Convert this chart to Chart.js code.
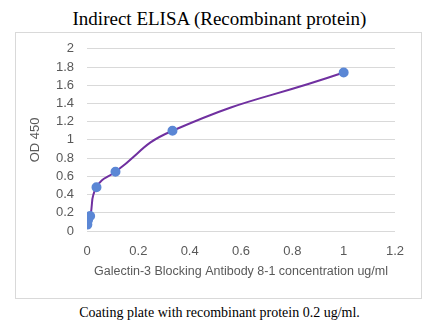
<!DOCTYPE html>
<html>
<head>
<meta charset="utf-8">
<script src="https://cdn.jsdelivr.net/npm/chart.js@4"></script>
<style>
  body { margin: 0; background: #fff; width: 439px; height: 336px; position: relative; overflow: hidden; }
  #title { position: absolute; left: 0; top: 8px; width: 439px; text-align: center; font-family: "Liberation Serif", "Times New Roman", serif; font-size: 19px; color: #000; }
  #box { position: absolute; left: 15px; top: 32px; width: 405px; height: 265px; border: 1px solid #d9d9d9; }
  #box canvas { position: absolute; left: 0; top: -5px; }
  #caption { position: absolute; left: 0; top: 305px; width: 439px; text-align: center; font-family: "Liberation Serif", "Times New Roman", serif; font-size: 14px; color: #000; }
</style>
</head>
<body>
<div id="title">Indirect ELISA (Recombinant protein)</div>
<div id="box"><canvas id="elisaChart" width="405" height="269"></canvas></div>
<div id="caption">Coating plate with recombinant protein 0.2 ug/ml.</div>
<script>
// antibody concentration (ug/ml) and measured OD 450
const concentration = [0.0014, 0.0041, 0.0123, 0.037, 0.111, 0.333, 1];
const od450 = [0.07, 0.12, 0.165, 0.48, 0.65, 1.1, 1.74];
const xTicks = [0, 0.2, 0.4, 0.6, 0.8, 1, 1.2];
const yTicks = [0, 0.2, 0.4, 0.6, 0.8, 1, 1.2, 1.4, 1.6, 1.8, 2];

document.addEventListener('DOMContentLoaded', function () {
    const ctx = document.getElementById('elisaChart').getContext('2d');
    const points = concentration.map((c, i) => ({ x: c, y: od450[i] }));
    const tickFont = { family: 'Liberation Sans, Arial, sans-serif', size: 13 };

    new Chart(ctx, {
        type: 'scatter',
        data: {
            datasets: [{
                data: points,
                showLine: true,
                tension: 0.5,
                borderColor: '#7030a0',
                borderWidth: 2,
                pointRadius: 4,
                pointBackgroundColor: '#5b87d5',
                pointBorderColor: '#5b87d5'
            }]
        },
        options: {
            responsive: false,
            animation: false,
            layout: { padding: { top: 8, right: 26, left: 0, bottom: 0 } },
            plugins: { legend: { display: false }, tooltip: { enabled: false } },
            scales: {
                x: {
                    type: 'linear',
                    min: 0,
                    max: 1.2,
                    afterBuildTicks: s => { s.ticks = xTicks.map(v => ({ value: v })); },
                    ticks: { color: '#595959', font: tickFont, padding: 13, maxRotation: 0, autoSkip: false, callback: v => String(v) },
                    grid: { display: false, drawTicks: false },
                    border: { display: false },
                    title: {
                        display: true,
                        text: 'Galectin-3 Blocking Antibody 8-1 concentration ug/ml',
                        color: '#595959',
                        font: { family: 'Liberation Sans, Arial, sans-serif', size: 12.5 },
                        padding: { top: 0, bottom: 18 }
                    },
                    afterFit: s => { s.height = 66; }
                },
                y: {
                    min: 0,
                    max: 2,
                    afterBuildTicks: s => { s.ticks = yTicks.map(v => ({ value: v })); },
                    ticks: { color: '#595959', font: tickFont, padding: 13, autoSkip: false, callback: v => String(v) },
                    grid: { color: '#d9d9d9', drawTicks: false },
                    border: { display: false },
                    title: {
                        display: true,
                        text: 'OD 450',
                        color: '#595959',
                        font: { family: 'Liberation Sans, Arial, sans-serif', size: 13 },
                        padding: { top: 12, bottom: 0 }
                    },
                    afterFit: s => { s.width = 71; }
                }
            }
        }
    });
});
</script>
</body>
</html>
